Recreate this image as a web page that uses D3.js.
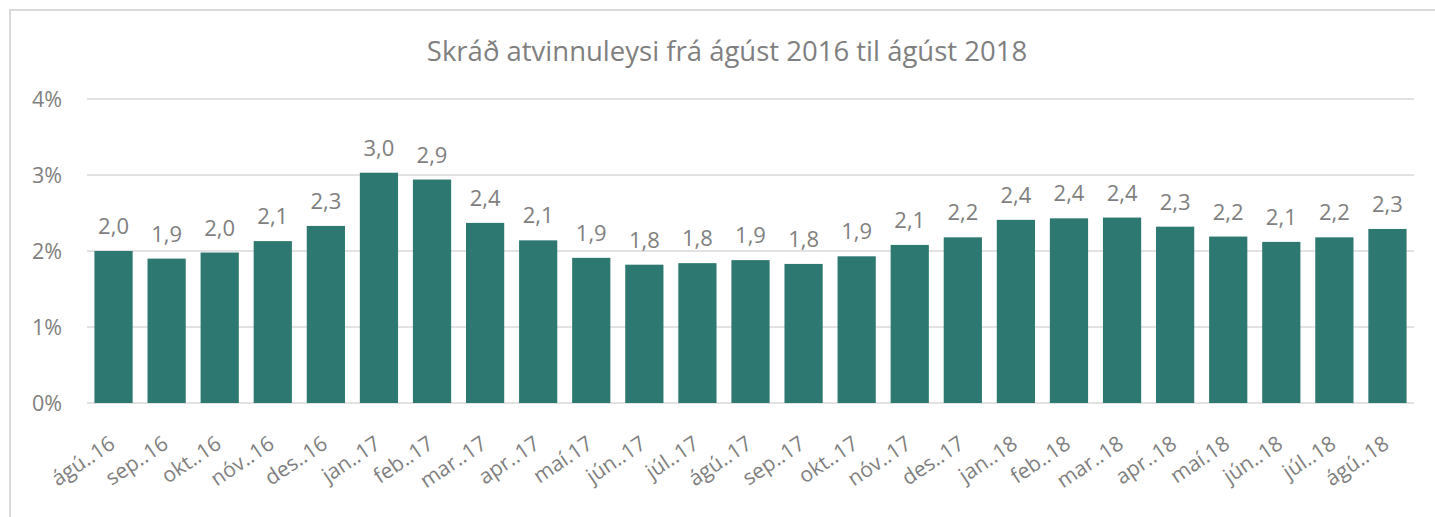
<!DOCTYPE html>
<html>
<head>
<meta charset="utf-8">
<script src="https://cdn.jsdelivr.net/npm/d3@7"></script>
<style>
  body { margin: 0; background: #fff; }
  svg text { font-family: "Open Sans", "Noto Sans", sans-serif; fill: #7f7f7f; }
</style>
</head>
<body>
<svg id="chart"></svg>
<script>
const months = ["ágú..16", "sep..16", "okt..16", "nóv..16", "des..16", "jan..17", "feb..17", "mar..17",
  "apr..17", "maí.17", "jún..17", "júl..17", "ágú..17", "sep..17", "okt..17", "nóv..17", "des..17",
  "jan..18", "feb..18", "mar..18", "apr..18", "maí.18", "jún..18", "júl..18", "ágú..18"];
const rates = [2.00, 1.90, 1.98, 2.13, 2.33, 3.03, 2.94, 2.37, 2.14, 1.91, 1.82, 1.84, 1.88,
  1.83, 1.93, 2.08, 2.18, 2.41, 2.43, 2.44, 2.32, 2.19, 2.12, 2.18, 2.29];
const yTicks = [0, 1, 2, 3, 4];
const title = "Skráð atvinnuleysi frá ágúst 2016 til ágúst 2018";

const width = 1435, height = 517;
const margin = { top: 99, right: 21, bottom: 114, left: 87 };

const svg = d3.select("#chart")
  .attr("width", width)
  .attr("height", height);

// outer frame (only top and left edges visible in the crop)
svg.append("path")
  .attr("d", `M10,${height} L10,10 L${width},10`)
  .attr("fill", "none")
  .attr("stroke", "#d9d9d9")
  .attr("stroke-width", 2);

const x = d3.scaleBand()
  .domain(months)
  .range([margin.left, width - margin.right])
  .paddingInner(0.28)
  .paddingOuter(0.14);

const y = d3.scaleLinear()
  .domain([0, 4])
  .range([height - margin.bottom, margin.top]);

// gridlines
svg.append("g")
  .selectAll("line")
  .data(yTicks)
  .enter().append("line")
  .attr("x1", margin.left)
  .attr("x2", width - margin.right)
  .attr("y1", d => y(d))
  .attr("y2", d => y(d))
  .attr("stroke", "#d9d9d9")
  .attr("stroke-width", 1.5);

// y axis labels
svg.append("g")
  .selectAll("text")
  .data(yTicks)
  .enter().append("text")
  .attr("x", 62)
  .attr("y", d => y(d))
  .attr("dy", "0.36em")
  .attr("text-anchor", "end")
  .style("font-size", "21.5px")
  .text(d => d + "%");

// bars
svg.append("g")
  .selectAll("rect")
  .data(rates)
  .enter().append("rect")
  .attr("x", (d, i) => x(months[i]))
  .attr("y", d => y(d))
  .attr("width", x.bandwidth())
  .attr("height", d => y(0) - y(d))
  .attr("fill", "#2e7872");

// data labels
const fmt = d3.format(".1f");
svg.append("g")
  .selectAll("text")
  .data(rates)
  .enter().append("text")
  .attr("x", (d, i) => x(months[i]) + x.bandwidth() / 2)
  .attr("y", d => y(d) - 17)
  .attr("text-anchor", "middle")
  .style("font-size", "22px")
  .text(d => fmt(d).replace(".", ","));

// x axis labels, rotated
svg.append("g")
  .selectAll("text")
  .data(months)
  .enter().append("text")
  .attr("transform", d => `translate(${x(d) + x.bandwidth() / 2 + 3}, 447) rotate(-34)`)
  .attr("text-anchor", "end")
  .style("font-size", "21px")
  .text(d => d);

// title
svg.append("text")
  .attr("x", 727)
  .attr("y", 61)
  .attr("text-anchor", "middle")
  .style("font-size", "27.5px")
  .text(title);
</script>
</body>
</html>
